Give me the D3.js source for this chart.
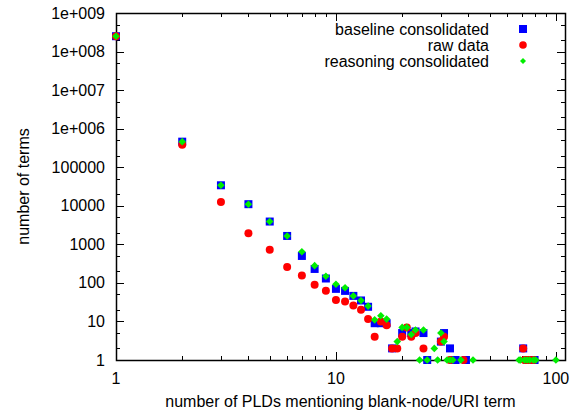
<!DOCTYPE html>
<html>
<head>
<meta charset="utf-8">
<script src="https://cdn.jsdelivr.net/npm/d3@7"></script>
<style>
  html, body { margin: 0; padding: 0; background: #fff; }
  svg { display: block; }
  text { font-family: Arial, "Liberation Sans", sans-serif; fill: #000; }
</style>
</head>
<body>
<svg id="chart" width="577" height="410"></svg>
<script>
// ---- data ----
const baselineX = [1, 2, 3, 4, 5, 6, 7, 8, 9, 10, 11, 12, 13, 14, 15, 16, 17, 18, 20, 22, 23, 25, 26, 30, 31, 33, 34, 35, 39, 71, 74, 75, 77, 78, 80];
const baselineY = [2.5e8, 4.6e5, 3.4e4, 1.1e4, 3900, 1650, 500, 230, 130, 70, 62, 46, 35, 24, 9, 9, 9, 2, 5, 5, 5.5, 5, 1, 3, 5, 2, 1, 1, 1, 2, 1, 1, 1, 1, 1];

const rawX = [1, 2, 3, 4, 5, 6, 7, 8, 9, 10, 11, 12, 13, 14, 15, 16, 17, 18, 19, 20, 21, 22, 23, 25, 30, 31, 33, 38, 71, 72, 74, 76, 79];
const rawY = [2.5e8, 3.8e5, 1.25e4, 1950, 720, 260, 155, 90, 63, 36, 33, 26, 20, 11.5, 4, 10, 8, 2, 2, 4, 7, 4, 5, 2, 3, 4, 1, 1, 2, 1, 1, 1, 1];

const reasonX = [1, 2, 3, 4, 5, 6, 7, 8, 9, 10, 11, 12, 13, 14, 15, 16, 17, 19, 20, 21, 22, 23, 24, 25, 26, 28, 29, 30, 31, 32, 33, 34, 37, 42, 68, 69, 72, 74, 76, 79, 81, 100];
const reasonY = [2.5e8, 4.6e5, 3.4e4, 1.1e4, 3900, 1650, 640, 280, 148, 92, 75, 46, 35, 25, 11, 14, 11.5, 3, 7, 7, 4.6, 6, 1, 6, 1, 2, 1, 5, 3, 1, 1, 1, 1, 1, 1, 1, 1, 1, 1, 1, 1, 1];

const seriesNames = ["baseline consolidated", "raw data", "reasoning consolidated"];
const yTickValues = [1, 10, 100, 1000, 10000, 100000, 1e6, 1e7, 1e8, 1e9];
const yTickLabels = ["1", "10", "100", "1000", "10000", "100000", "1e+006", "1e+007", "1e+008", "1e+009"];
const xTickValues = [1, 10, 100];
const xTickLabels = ["1", "10", "100"];
const xTitle = "number of PLDs mentioning blank-node/URI term";
const yTitle = "number of terms";

// ---- layout ----
const L = 116, R = 565, T = 13, B = 360;
const svg = d3.select("#chart");
const x = d3.scaleLog().domain([1, 110]).range([L, R]);
const y = d3.scaleLog().domain([1, 1e9]).range([B, T]);

const FS = 16;

// minor ticks
const xMinor = [];
for (let d = 1; d <= 100; d *= 10) for (let k = 2; k <= 9; k++) if (d * k <= 110) xMinor.push(d * k);
const yMinor = [];
for (let d = 1; d < 1e9; d *= 10) [2, 5].forEach(k => yMinor.push(d * k));

const tickG = svg.append("g").attr("stroke", "#000").attr("stroke-width", 1);
const MAJ = 8, MIN = 4;
xTickValues.forEach(v => {
  const px = Math.round(x(v)) + 0.5;
  tickG.append("line").attr("x1", px).attr("x2", px).attr("y1", B).attr("y2", B - MAJ);
  tickG.append("line").attr("x1", px).attr("x2", px).attr("y1", T).attr("y2", T + MAJ);
});
xMinor.forEach(v => {
  const px = Math.round(x(v)) + 0.5;
  tickG.append("line").attr("x1", px).attr("x2", px).attr("y1", B).attr("y2", B - MIN);
  tickG.append("line").attr("x1", px).attr("x2", px).attr("y1", T).attr("y2", T + MIN);
});
yTickValues.forEach(v => {
  const py = Math.round(y(v)) + 0.5;
  tickG.append("line").attr("x1", L).attr("x2", L + MAJ).attr("y1", py).attr("y2", py);
  tickG.append("line").attr("x1", R).attr("x2", R - MAJ).attr("y1", py).attr("y2", py);
});
yMinor.forEach(v => {
  const py = Math.round(y(v)) + 0.5;
  tickG.append("line").attr("x1", L).attr("x2", L + MIN).attr("y1", py).attr("y2", py);
  tickG.append("line").attr("x1", R).attr("x2", R - MIN).attr("y1", py).attr("y2", py);
});

// frame
svg.append("rect").attr("x", L + 0.5).attr("y", T + 0.5).attr("width", R - L).attr("height", B - T)
  .attr("fill", "none").attr("stroke", "#000").attr("stroke-width", 1.5);

// tick labels
yTickValues.forEach((v, i) => {
  svg.append("text").attr("x", 105).attr("y", y(v)).attr("dy", "0.35em")
    .attr("text-anchor", "end").attr("font-size", FS).text(yTickLabels[i]);
});
xTickValues.forEach((v, i) => {
  svg.append("text").attr("x", x(v)).attr("y", 384)
    .attr("text-anchor", "middle").attr("font-size", FS).text(xTickLabels[i]);
});

// axis titles
svg.append("text").attr("x", (L + R) / 2).attr("y", 407).attr("text-anchor", "middle")
  .attr("font-size", FS).text(xTitle);
svg.append("text").attr("transform", `translate(29,${(T + B) / 2}) rotate(-90)`)
  .attr("text-anchor", "middle").attr("font-size", FS).text(yTitle);

// markers
const BLUE = "#0000ff", RED = "#ff0000", GREEN = "#00ee00";
function square(g, cx, cy, s) {
  g.append("rect").attr("x", cx - s / 2).attr("y", cy - s / 2).attr("width", s).attr("height", s).attr("fill", BLUE);
}
function circle(g, cx, cy, r) {
  g.append("circle").attr("cx", cx).attr("cy", cy).attr("r", r).attr("fill", RED);
}
function diamond(g, cx, cy, h) {
  g.append("path").attr("d", `M${cx},${cy - h}L${cx + h},${cy}L${cx},${cy + h}L${cx - h},${cy}Z`).attr("fill", GREEN);
}

const pts = svg.append("g");
baselineX.forEach((v, i) => square(pts, x(v), y(baselineY[i]), 8));
rawX.forEach((v, i) => circle(pts, x(v), y(rawY[i]), 4));
reasonX.forEach((v, i) => diamond(pts, x(v), y(reasonY[i]), 3.8));

// legend
const legY = [29, 45, 61];
const legG = svg.append("g");
seriesNames.forEach((n, i) => {
  legG.append("text").attr("x", 489).attr("y", legY[i]).attr("dy", "0.35em")
    .attr("text-anchor", "end").attr("font-size", FS).text(n);
});
square(legG, 523, legY[0], 8);
circle(legG, 523, legY[1], 3.8);
diamond(legG, 523, legY[2], 3);
</script>
</body>
</html>
